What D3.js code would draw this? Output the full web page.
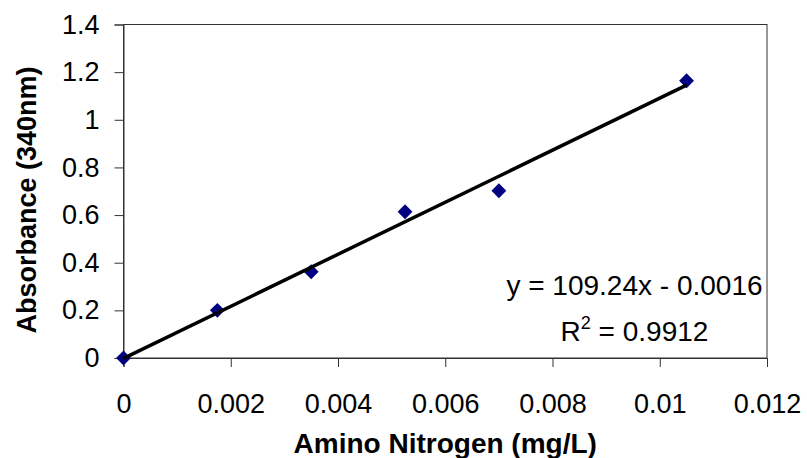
<!DOCTYPE html>
<html>
<head>
<meta charset="utf-8">
<script src="https://cdn.jsdelivr.net/npm/d3@7"></script>
<style>
  html, body { margin: 0; padding: 0; background: #fff; }
  svg text { font-family: "Liberation Sans", Arial, sans-serif; fill: #000; }
</style>
</head>
<body>
<svg id="chart" width="807" height="458"></svg>
<script>
// amino nitrogen standards (mg/L) vs absorbance at 340nm
var nitrogen = [0, 0.00175, 0.0035, 0.00525, 0.007, 0.0105];
var absorbance = [0, 0.2, 0.362, 0.614, 0.702, 1.164];
var xTicks = [0, 0.002, 0.004, 0.006, 0.008, 0.01, 0.012];
var yTicks = [0, 0.2, 0.4, 0.6, 0.8, 1, 1.2, 1.4];
var slope = 109.24, intercept = -0.0016, rSquared = 0.9912;

var svg = d3.select('#chart');
var margin = {top: 24.5, right: 40, bottom: 100, left: 123.5};
var width = 807 - margin.left - margin.right,
    height = 458 - margin.top - margin.bottom;

var g = svg.append('g').attr('transform', 'translate(' + margin.left + ',' + margin.top + ')');

var x = d3.scaleLinear().domain([0, 0.012]).range([0, width]);
var y = d3.scaleLinear().domain([0, 1.4]).range([height, 0]);

// plot area box
g.append('rect')
    .attr('width', width).attr('height', height)
    .attr('fill', 'none').attr('stroke', '#333').attr('stroke-width', 1);

var xAxis = g.append('g')
    .attr('transform', 'translate(0,' + height + ')')
    .call(d3.axisBottom(x).tickValues(xTicks).tickSize(9).tickPadding(27)
        .tickFormat(function(d) { return d3.format('~g')(d); }));

var yAxis = g.append('g')
    .call(d3.axisLeft(y).tickValues(yTicks).tickSize(9).tickPadding(15)
        .tickFormat(function(d) { return d3.format('~g')(d); }));

[xAxis, yAxis].forEach(function(a) {
    a.select('.domain').attr('stroke', '#333');
    a.selectAll('.tick line').attr('stroke', '#333');
    a.selectAll('.tick text').attr('font-size', 27).attr('fill', '#000')
        .style('font-family', '"Liberation Sans", Arial, sans-serif');
});

// markers
var pts = nitrogen.map(function(d, i) { return {x: d, y: absorbance[i]}; });
g.selectAll('.pt').data(pts).enter().append('path')
    .attr('class', 'pt')
    .attr('d', d3.symbol(d3.symbolSquare, 110))
    .attr('transform', function(d) { return 'translate(' + x(d.x) + ',' + y(d.y) + ') rotate(45)'; })
    .attr('fill', '#000080');

// linear trend line, drawn over the markers
var xMax = d3.max(nitrogen);
g.append('line')
    .attr('x1', x(0)).attr('y1', y(intercept))
    .attr('x2', x(xMax)).attr('y2', y(slope * xMax + intercept))
    .attr('stroke', '#000').attr('stroke-width', 3.5);

// equation label
var eq = g.append('text')
    .attr('text-anchor', 'middle')
    .attr('font-size', 28)
    .attr('x', 634.5 - margin.left);
eq.append('tspan').attr('x', 634.5 - margin.left).attr('y', 295 - margin.top)
    .text('y = ' + slope + 'x - ' + Math.abs(intercept));
var r2 = eq.append('tspan').attr('x', 634.5 - margin.left).attr('y', 341 - margin.top);
r2.append('tspan').text('R');
r2.append('tspan').attr('font-size', 18).attr('dy', -12).text('2');
r2.append('tspan').attr('dy', 12).text(' = ' + rSquared);

// axis titles
svg.append('text')
    .attr('x', margin.left + width / 2).attr('y', 453)
    .attr('text-anchor', 'middle')
    .attr('font-size', 28).attr('font-weight', 'bold')
    .text('Amino Nitrogen (mg/L)');

svg.append('text')
    .attr('transform', 'translate(36,200) rotate(-90)')
    .attr('text-anchor', 'middle')
    .attr('font-size', 27).attr('font-weight', 'bold')
    .text('Absorbance (340nm)');
</script>
</body>
</html>
